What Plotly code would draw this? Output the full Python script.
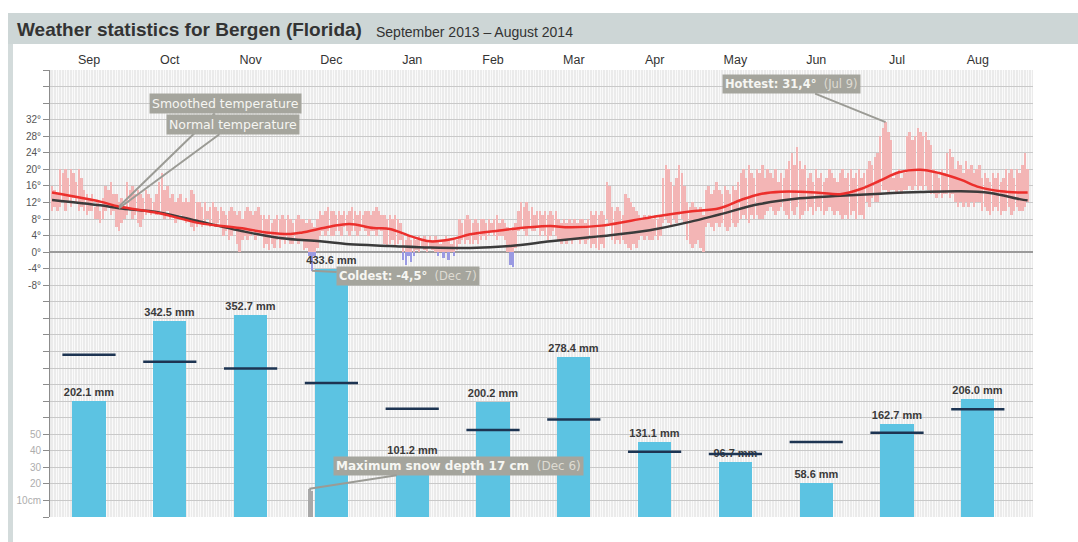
import datetime
import plotly.graph_objects as go

# ---------------- data ----------------
MONTHS = ["Sep", "Oct", "Nov", "Dec", "Jan", "Feb", "Mar", "Apr", "May", "Jun", "Jul", "Aug"]
PRECIP_MM = [202.1, 342.5, 352.7, 433.6, 101.2, 200.2, 278.4, 131.1, 96.7, 58.6, 162.7, 206.0]
PRECIP_NORMAL_MM = [283, 271, 259, 234, 189, 152, 170, 114, 110, 131, 147, 188]

START = datetime.date(2013, 9, 1)

TMAX = [
    16, 15, 14,
    20, 19, 20, 18, 20, 19, 17, 20, 18,
    15, 14, 13, 14,
    11, 12, 10, 13,
    16, 15, 17, 14,
    14, 12, 13, 11,
    17, 15, 16, 14,
    15, 14, 13, 15,
    14, 13, 12, 14,
    17, 19, 15, 16,
    13, 14, 12, 13, 14, 12, 13, 12,
    15, 14, 12,
    12, 11, 12, 10, 11, 12, 11, 10, 11,
    10, 9, 10, 11, 10, 9, 10, 8,
    10, 11, 10, 9, 10, 11, 9,
    9, 8, 9, 7, 8, 9, 8,
    9, 8, 9, 8, 7, 8, 9, 8,
    8, 7, 8, 7, 6, 8,
    10, 9, 10, 11, 10,
    10, 9, 10, 9, 10, 9, 10, 11, 10, 9, 10, 9, 10, 10, 9, 10, 11, 10, 9,
    9, 8, 9, 8, 9, 8, 7,
    4, 3, 4, 3, 4,
    3, 4, 3, 4, 3, 4, 3, 4,
    3, 2, 3, 4, 3, 2, 3, 3,
    8, 7, 8, 9, 8, 7, 8, 7, 8,
    8, 7, 8, 7, 8, 9, 7, 8, 7,
    6, 5, 6, 7,
    10, 12, 11, 12, 10, 11, 9, 10,
    10, 9, 10, 9, 10, 9, 10,
    8, 7, 8, 7, 8, 7, 8, 7, 8, 8, 7, 8,
    10, 9, 10, 9, 10, 9,
    17, 16,
    11, 10, 11, 10, 9,
    14, 13, 12, 11, 10,
    9, 8, 9, 8, 9, 8, 9, 8, 9,
    18, 21, 20, 17, 16, 18, 21, 19, 16,
    12, 11, 12, 11, 10, 11, 9,
    15, 16, 14, 15, 17, 15, 14, 16, 15, 14, 16, 15, 17,
    19, 20, 18, 21, 19, 18, 20, 19, 21, 18,
    20, 19, 18, 20, 17, 19, 18,
    20, 22, 24, 21, 25.5, 22, 20, 21,
    18, 19, 17, 20, 18, 19, 17, 18, 20, 19, 18, 17,
    19, 20, 18, 19, 20, 18, 19, 20, 18, 19,
    20, 22, 21, 23, 24,
    28, 30, 31.4, 29, 27,
    18, 19, 20, 18, 19,
    28, 29, 27, 28, 30, 29, 28, 29, 27, 26,
    20, 19, 18, 20, 19,
    24, 25, 23,
    20, 22, 21, 19, 22, 20, 21, 19, 20, 21,
    18, 19, 18, 17, 19, 18, 19, 17, 18,
    20, 19, 20, 18, 20, 19, 21, 24, 20,
]

TMIN = [
    10, 11, 10,
    11, 12, 10, 12, 11, 13, 12, 10, 11,
    10, 9, 10, 10,
    8, 8, 7, 8,
    10, 11, 9, 10,
    6, 5, 7, 8,
    9, 10, 8, 9,
    7, 6, 8, 9,
    10, 9, 10, 9,
    10, 9, 8, 10,
    8, 9, 7, 8, 9, 8, 7, 8,
    6, 5, 6,
    7, 6, 7, 8, 6, 7, 6, 7, 6,
    4, 5, 3, 4, 5, 2, 0, 3,
    4, 3, 4, 5, 3, 4, 4,
    1, 2, 0.5, 2, 1, 3, 1,
    3, 2, 3, 2, 2, 3, 2, 3,
    0.5, 1, -1, -4.5, -1, 1,
    4, 5, 4, 5, 4,
    4, 5, 5, 4, 6, 5, 4, 5, 5, 4, 5, 6, 5, 4, 5, 5, 4, 6, 5,
    2, 1.5, 2, 3, 1.5, 2, 3,
    -2, -3, -1, -2.5, -1,
    0.5, 0, 1, 0.5, 0, 1, 0.5, 0,
    -1, 0, -1.5, 0, -2, 0, -1, 0.5,
    2, 3, 2, 3, 2, 2, 3, 2, 3,
    4, 3, 4, 5, 4, 3, 4, 4, 3,
    0, -3, -3.5, 1,
    5, 6, 5, 4, 6, 5, 5, 6,
    4, 5, 4, 3, 4, 5, 4,
    3, 2, 3, 2, 3, 2, 3, 3, 2, 3, 2, 3,
    1, 2, 1, 0.5, 2, 1,
    8, 7,
    3, 2, 3, 2, 3,
    2, 1, 0.5, 2, 1,
    3, 4, 3, 4, 3, 3, 4, 3, 4,
    7, 8, 7, 6, 8, 7, 9, 8, 7,
    3, 2, 1, 2, 3, 1, 0,
    6, 7, 6, 5, 7, 6, 7, 6, 5, 6, 7, 6, 7,
    8, 9, 8, 7, 9, 8, 9, 8, 8, 9,
    10, 11, 10, 9, 10, 11, 10,
    9, 8, 10, 9, 11, 8, 9, 10,
    10, 11, 9, 10, 11, 10, 9, 10, 11, 10, 9, 10,
    9, 8, 9, 8, 9, 10, 8, 9, 9, 8,
    12, 11, 13, 12, 12,
    14, 15, 15, 14, 15,
    15, 14, 15, 14, 15,
    15, 16, 15, 16, 15, 16, 15, 16, 15, 14,
    14, 13, 14, 13, 14,
    14, 13, 14,
    12, 11, 12, 11, 12, 11, 12, 11, 12, 12,
    10, 11, 10, 9, 10, 11, 10, 9, 10,
    10, 11, 9, 10, 11, 10, 10, 11, 12,
]

SMOOTH_DAYS = [0, 18, 25, 40, 55, 70, 81, 89, 93, 104, 111, 120, 126, 134, 141, 149, 156, 167, 178, 186,
               193, 205, 216, 227, 238, 249, 257, 264, 272, 279, 287, 294, 302, 309, 316, 324, 331, 339,
               346, 354, 361, 364]
SMOOTH_T = [14.4, 12.2, 11.0, 9.4, 7.0, 5.8, 4.7, 4.4, 4.7, 6.2, 6.8, 5.8, 5.6, 3.8, 2.6, 3.1, 4.3, 5.2, 6.0, 6.3,
            6.0, 6.4, 7.6, 8.8, 9.8, 10.6, 12.6, 14.0, 14.6, 14.6, 14.3, 14.0, 15.3, 17.3, 19.3, 19.9, 19.1,
            17.5, 15.7, 14.7, 14.4, 14.4]

NORMAL_DAYS = [0, 18, 25, 40, 55, 70, 85, 100, 111, 126, 141, 156, 171, 186, 204, 223, 238, 249, 264, 279,
               294, 309, 324, 339, 350, 361, 364]
NORMAL_T = [12.6, 11.3, 10.6, 9.6, 7.4, 5.2, 3.4, 2.6, 1.9, 1.5, 1.1, 1.0, 1.5, 2.6, 3.8, 5.3, 7.3, 9.1, 11.6,
            13.0, 13.6, 14.1, 14.5, 14.7, 14.3, 12.8, 12.5]

SNOW_DAYS = [96, 97]
SNOW_CM = [17, 16]

TEMP_TICK_VALUES = list(range(-64, 45, 4))
TEMP_LABEL_VALUES = [-8, -4, 0, 4, 8, 12, 16, 20, 24, 28, 32]
TEMP_LABELS = ["-8°", "-4°", "0°", "4°", "8°", "12°", "16°", "20°", "24°", "28°", "32°"]
SNOW_TICK_VALUES = [10, 20, 30, 40, 50]
SNOW_TICK_LABELS = ["10cm", "20", "30", "40", "50"]

# ---------------- derived ----------------
DAYS = list(range(len(TMAX)))
assert len(TMAX) == 365 and len(TMIN) == 365

pos_base, pos_h = [], []
neg_x, neg_base, neg_h = [], [], []
for d, hi, lo in zip(DAYS, TMAX, TMIN):
    b = max(lo, 0)
    pos_base.append(b)
    pos_h.append(max(hi - b, 0))
    if lo < 0:
        neg_x.append(d)
        neg_base.append(lo)
        neg_h.append(min(hi, 0) - lo)

temp_ticktext = [TEMP_LABELS[TEMP_LABEL_VALUES.index(v)] if v in TEMP_LABEL_VALUES else "" for v in TEMP_TICK_VALUES]

FONT = "Arial, Liberation Sans, sans-serif"

fig = go.Figure()

# precipitation (monthly)
fig.add_trace(go.Bar(
    x=MONTHS, y=PRECIP_MM, xaxis="x2", yaxis="y2", width=0.41,
    marker=dict(color="#5cc3e2", line=dict(width=0)),
    texttemplate="<b>%{y:.1f} mm</b>", textposition="outside", constraintext="none",
    textfont=dict(family=FONT, size=11, color="#3a3a3a"), cliponaxis=False,
    hoverinfo="skip", showlegend=False))
fig.add_trace(go.Scatter(
    x=MONTHS, y=PRECIP_NORMAL_MM, xaxis="x2", yaxis="y2", mode="markers",
    marker=dict(symbol="line-ew", size=38, line=dict(width=2.5, color="#1d3452")),
    hoverinfo="skip", showlegend=False))

# snow depth
fig.add_trace(go.Bar(
    x=SNOW_DAYS, y=SNOW_CM, xaxis="x", yaxis="y4", width=1.0,
    marker=dict(color="#a8a8a8", line=dict(width=0)), hoverinfo="skip", showlegend=False))

# daily temperature ranges
fig.add_trace(go.Bar(
    x=DAYS, y=pos_h, base=pos_base, xaxis="x", yaxis="y", width=0.92,
    marker=dict(color="#f3b5b5", line=dict(width=0)), hoverinfo="skip", showlegend=False))
fig.add_trace(go.Bar(
    x=neg_x, y=neg_h, base=neg_base, xaxis="x", yaxis="y", width=0.92,
    marker=dict(color="#9a9ae2", line=dict(width=0)), hoverinfo="skip", showlegend=False))

# normal + smoothed temperature
fig.add_trace(go.Scatter(
    x=NORMAL_DAYS, y=NORMAL_T, mode="lines", line=dict(color="#3b3b3b", width=2.5, shape="spline"),
    hoverinfo="skip", showlegend=False))
fig.add_trace(go.Scatter(
    x=SMOOTH_DAYS, y=SMOOTH_T, mode="lines", line=dict(color="#ec2f2c", width=2.5, shape="spline"),
    hoverinfo="skip", showlegend=False))

# ---------------- layout ----------------
W, H = 1078, 542
ML, MR, MT, MB = 50, 45, 70, 25
PW, PH = W - ML - MR, H - MT - MB


def px(x):
    return (x - ML) / PW


def py(y):
    return (H - MB - y) / PH


axis_line = dict(showline=True, linecolor="#8c8c8c", linewidth=1, ticks="outside", ticklen=6,
                 tickcolor="#8c8c8c", tickwidth=1)

fig.update_layout(
    width=W, height=H, margin=dict(l=ML, r=MR, t=MT, b=MB),
    paper_bgcolor="white", plot_bgcolor="#ebebeb",
    barmode="overlay", bargap=0, showlegend=False,
    font=dict(family=FONT, color="#333"),
    xaxis=dict(range=[-0.75, 366], showticklabels=False, ticks="", showgrid=True, dtick=1, tick0=0.5,
               gridcolor="rgba(255,255,255,0.75)", gridwidth=1, zeroline=False, showline=False, fixedrange=True),
    xaxis2=dict(type="category", categoryarray=MONTHS, overlaying="x", side="top", anchor="y2",
                range=[-0.4827, 11.683], showgrid=False, ticks="", showline=False, zeroline=False,
                tickfont=dict(family=FONT, size=12.5, color="#333"), ticklabelstandoff=3),
    yaxis=dict(range=[-64, 44], tickvals=TEMP_TICK_VALUES, ticktext=temp_ticktext, showgrid=True,
               gridcolor="#c9c9c9", gridwidth=1, zeroline=True, zerolinecolor="#9a9a9a", zerolinewidth=1.5,
               tickfont=dict(family=FONT, size=10, color="#555"), side="left", **axis_line),
    yaxis3=dict(range=[-64, 44], tickvals=TEMP_TICK_VALUES, ticktext=temp_ticktext, overlaying="y",
                side="right", anchor="x", showgrid=False, zeroline=False,
                tickfont=dict(family=FONT, size=10, color="#555"), **axis_line),
    yaxis2=dict(range=[0, 780], overlaying="y", visible=False, showgrid=False, zeroline=False),
    yaxis4=dict(range=[0, 270], overlaying="y", side="left", anchor="x", tickvals=SNOW_TICK_VALUES,
                ticktext=SNOW_TICK_LABELS, showgrid=False, zeroline=False, showline=False, ticks="outside",
                ticklen=6, tickcolor="rgba(0,0,0,0)", tickfont=dict(family=FONT, size=10, color="#adadad")),
    yaxis5=dict(range=[0, 270], overlaying="y", side="right", anchor="x", tickvals=SNOW_TICK_VALUES,
                ticktext=SNOW_TICK_LABELS, showgrid=False, zeroline=False, showline=False, ticks="outside",
                ticklen=6, tickcolor="rgba(0,0,0,0)", tickfont=dict(family=FONT, size=10, color="#adadad")),
)

# frame: title bar + left border
fig.add_shape(type="rect", xref="paper", yref="paper", x0=px(8), x1=px(1078), y0=py(44), y1=py(13),
              fillcolor="#cdd6d6", line=dict(width=0), layer="below")
fig.add_shape(type="rect", xref="paper", yref="paper", x0=px(8), x1=px(13), y0=py(542), y1=py(44),
              fillcolor="#d3dbdb", line=dict(width=0), layer="below")

fig.add_annotation(xref="paper", yref="paper", x=px(15), y=py(30), xanchor="left", yanchor="middle",
                   text="<b>Weather statistics for Bergen (Florida)</b>", showarrow=False,
                   font=dict(family=FONT, size=19, color="#333"))
fig.add_annotation(xref="paper", yref="paper", x=px(374), y=py(32), xanchor="left", yanchor="middle",
                   text="September 2013 – August 2014", showarrow=False,
                   font=dict(family=FONT, size=14, color="#333"))

# callouts
ann = dict(showarrow=True, arrowhead=0, arrowwidth=2, arrowcolor="#9b9b95", bgcolor="#a5a59d",
           borderpad=2)


def afont(size):
    return dict(family="DejaVu Sans", size=size, color="#f6f6f2")


def fmt_day(d):
    dt = START + datetime.timedelta(days=d)
    return f"{dt:%b} {dt.day}"


hot_i = TMAX.index(max(TMAX))
cold_i = TMIN.index(min(TMIN))
snow_i = SNOW_CM.index(max(SNOW_CM))
hot_s = f"{TMAX[hot_i]:.1f}".replace(".", ",")
cold_s = f"{TMIN[cold_i]:.1f}".replace(".", ",")
LIGHT = "<span style='color:#dedbd2'>"

fig.add_annotation(x=SMOOTH_DAYS[2], y=SMOOTH_T[2], xref="x", yref="y", ax=106, ay=-103,
                   text="Smoothed temperature", font=afont(12.5), **ann)
fig.add_annotation(x=NORMAL_DAYS[2], y=NORMAL_T[2], xref="x", yref="y", ax=114, ay=-84,
                   text="Normal temperature", font=afont(12.5), **ann)
fig.add_annotation(x=hot_i, y=TMAX[hot_i], xref="x", yref="y", ax=-94, ay=-38,
                   text=f"<b>Hottest: {hot_s}°</b>  {LIGHT}({fmt_day(hot_i)})</span>", font=afont(11.5), **ann)
fig.add_annotation(x=cold_i, y=TMIN[cold_i], xref="x", yref="y", ax=96, ay=5,
                   text=f"<b>Coldest: {cold_s}°</b>  {LIGHT}({fmt_day(cold_i)})</span>", font=afont(11.5), **ann)
fig.add_annotation(x=SNOW_DAYS[snow_i], y=SNOW_CM[snow_i], xref="x", yref="y4", ax=149, ay=-23,
                   text=f"<b>Maximum snow depth {SNOW_CM[snow_i]} cm</b>  {LIGHT}({fmt_day(SNOW_DAYS[snow_i])})</span>",
                   font=afont(12), **ann)

fig.write_html("out.html", config={"displayModeBar": False},
               post_script="document.body.style.margin='0';document.body.style.overflow='hidden';")
